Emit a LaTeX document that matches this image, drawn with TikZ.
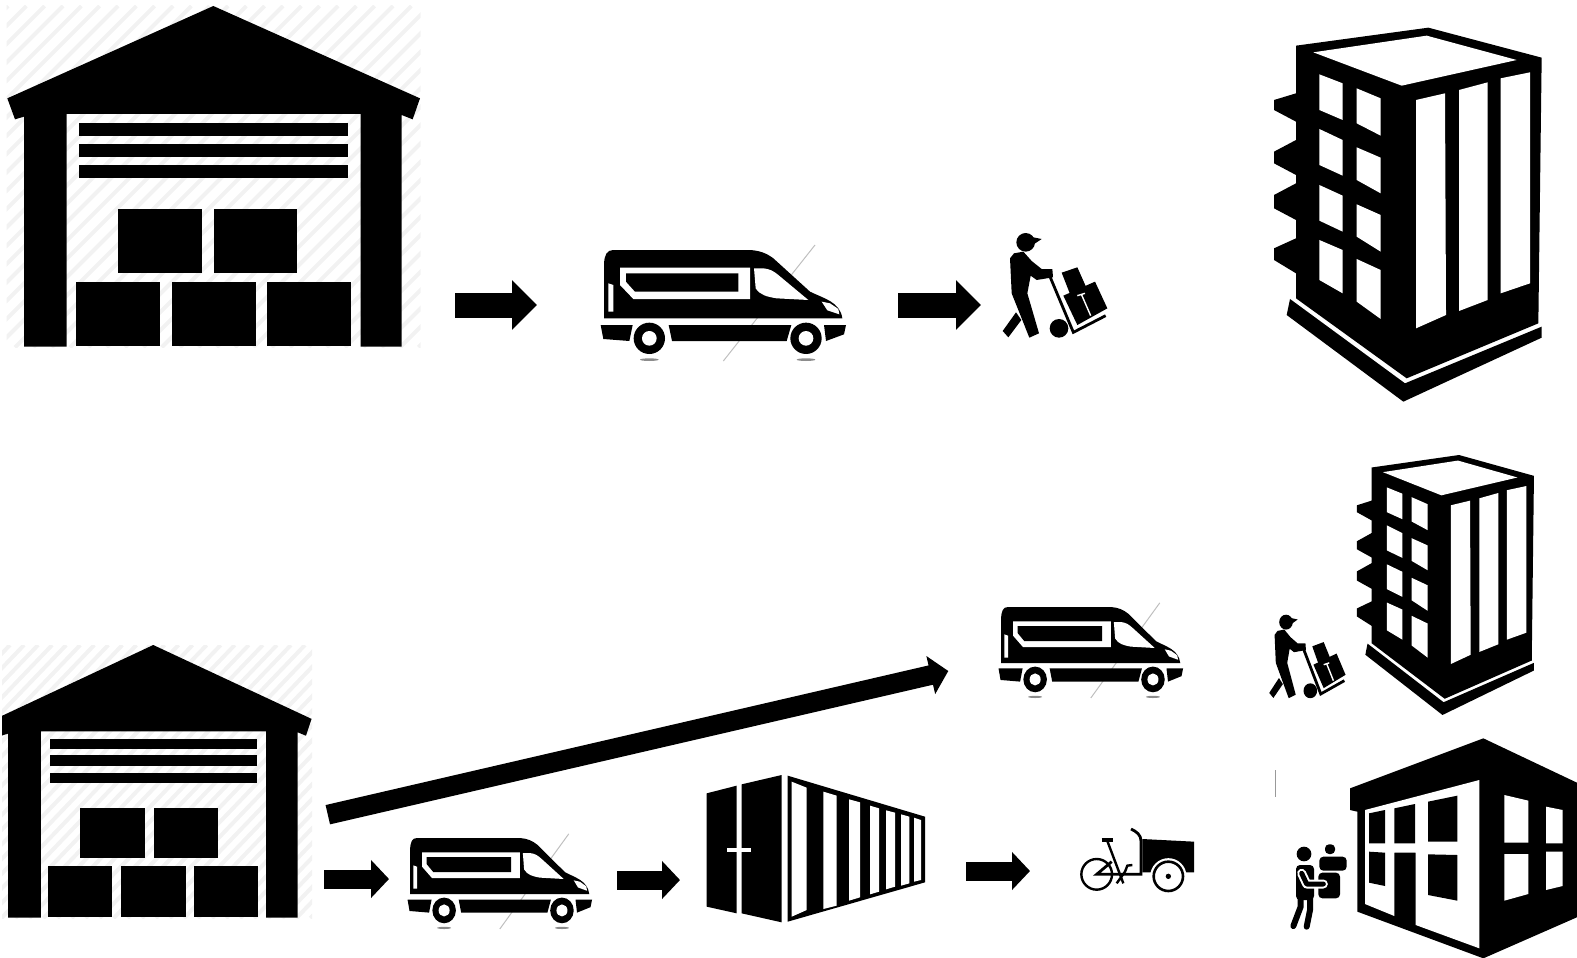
\documentclass[tikz,border=0pt]{standalone}
\usepackage{xcolor}
\usetikzlibrary{arrows.meta}
\tikzset{
    solid part/.style={fill=black, draw=none},
    cut part/.style={fill=white, draw=none},
    pics/warehouse/.style={code={
        \begin{scope}
        \clip (20,18) rectangle (1262,1042);
        \foreach \a in {-1000,-945,...,1260}
            \draw[black!5, line width=2pt] (\a,1042) -- ++(1024,-1024);
        \end{scope}
        \fill[solid part] (640,18) -- (1260,295) -- (1238,358) -- (1205,345) -- (1205,1040) -- (1082,1040) -- (1082,342) -- (200,342) -- (200,1040) -- (72,1040) -- (72,350) -- (45,358) -- (22,295) -- cycle;
        \foreach \y in {370,432,496}
            \fill[solid part] (236,\y) rectangle ++(809,38);
        \foreach \x in {355,641}
            \fill[solid part] (\x,628) rectangle ++(251,190);
        \foreach \x in {228,515,800}
            \fill[solid part] (\x,847) rectangle ++(252,191);
    }},
    pics/van/.style={code={
        \draw[black!25, line width=.5pt] (675,30) -- (400,378);
        \fill[solid part] (42,250) -- (42,85) .. controls (44,60) and (50,45) .. (70,45) -- (480,45) .. controls (510,47) and (530,55) .. (550,70) -- (660,170) .. controls (700,190) and (750,200) .. (757,250) -- cycle;
        \fill[cut part] (90,98) -- (480,98) -- (480,192) -- (130,192) -- (90,150) -- cycle;
        \fill[solid part] (108,115) -- (445,115) -- (445,170) -- (135,170) -- (108,140) -- cycle;
        \fill[cut part] (492,100) -- (520,100) .. controls (540,102) and (550,108) .. (565,120) -- (655,195) -- (560,190) .. controls (530,185) and (510,180) .. (497,160) -- cycle;
        \fill[cut part] (55,145) -- (70,150) -- (70,230) -- (55,230) -- cycle;
        \fill[cut part] (695,200) -- (720,205) -- (745,222) -- (748,238) -- (712,226) -- cycle;
        \fill[solid part] (32,270) -- (128,270) -- (118,318) -- (40,312) -- cycle;
        \fill[solid part] (236,270) -- (604,270) -- (590,318) -- (246,318) -- cycle;
        \fill[solid part] (702,270) -- (768,270) -- (762,298) -- (708,318) -- cycle;
        \foreach \x in {178,648} {
            \fill[black!45] (\x,374) ellipse [x radius=28, y radius=4];
            \fill[solid part] (\x,310) circle [radius=47];
            \fill[cut part] (\x,310) circle [radius=22];
        }
    }},
    pics/porter/.style={code={
        \fill[solid part] (107,52) circle [radius=28];
        \fill[solid part] (120,35) -- (155,42) -- (128,60) -- cycle;
        \fill[solid part] (60,100) -- (72,85) -- (100,80) -- (125,108) -- (155,132) -- (187,132) -- (189,157) -- (140,165) -- (122,152) -- (112,205) -- (147,325) -- (118,338) -- (65,205) -- cycle;
        \fill[solid part] (78,262) -- (94,285) -- (55,337) -- (38,318) -- cycle;
        \fill[solid part] (207,310) circle [radius=28];
        \draw[line width=1.4pt] (180,155) -- (250,322) -- (347,272);
        \fill[solid part] (215,143) -- (262,127) -- (290,190) -- (240,207) -- cycle;
        \fill[solid part] (220,212) -- (315,170) -- (352,250) -- (262,300) -- cycle;
        \draw[white, line width=.7pt] (262,212) -- (285,205) (275,210) -- (302,272);
    }},
    pics/tower/.style={code={
        \fill[solid part] (108,92) -- (505,38) -- (845,128) -- (835,925) -- (440,1090) -- (108,850) -- (108,775) -- (42,735) -- (42,700) -- (108,670) -- (108,615) -- (42,580) -- (42,540) -- (108,505) -- (108,480) -- (42,445) -- (42,410) -- (108,375) -- (108,320) -- (42,285) -- (42,255) -- (108,235) -- cycle;
        \fill[solid part] (90,852) -- (435,1105) -- (845,935) -- (845,968) -- (430,1160) -- (80,900) -- cycle;
        \fill[cut part] (160,112) -- (500,62) -- (770,135) -- (425,212) -- cycle;
        \foreach \a/\b/\c/\d/\e in {178/178/205/315/285, 178/342/375/482/450, 178/510/542/650/617, 178/675/705/835/795}
            \fill[cut part] (\a,\b) -- (248,\c) -- (248,\d) -- (\a,\e) -- cycle;
        \foreach \a/\b/\c/\d/\e in {290/220/250/362/325, 290/397/428/535/495, 290/568/600/710/665, 290/732/765/912/860}
            \fill[cut part] (\a,\b) -- (362,\c) -- (362,\d) -- (\a,\e) -- cycle;
        \fill[cut part] (468,255) -- (555,235) -- (558,900) -- (468,940) -- cycle;
        \fill[cut part] (597,225) -- (683,202) -- (683,855) -- (597,888) -- cycle;
        \fill[cut part] (722,190) -- (810,172) -- (810,805) -- (722,835) -- cycle;
    }}
}
\begin{document}
\begin{tikzpicture}[
    x=.5pt, y=-.5pt,
    big flow/.style={line width=12.5pt, -{Triangle[length=12.5pt, width=24pt]}},
    small flow/.style={line width=9.5pt, -{Triangle[length=9pt, width=18.5pt]}},
    long flow/.style={line width=9.9pt, -{Triangle[length=9pt, width=19pt]}}
]
\useasboundingbox (0,0) rectangle (1577,957);

\pic[scale=1/3] {warehouse};
\pic[shift={(590,235)}, scale=1/3] {van};
\pic[shift={(990,225)}, scale=1/3] {porter};
\pic[shift={(1260,15)}, scale=1/3] {tower};

\begin{scope}
\clip (2,640) rectangle (330,930);
\pic[shift={(-10.2,640.2)}, xscale=.2554, yscale=.2668] {warehouse};
\end{scope}
\pic[shift={(990.5,594.7)}, xscale=.2507, yscale=.2733] {van};
\pic[shift={(399.5,825.7)}, xscale=.2507, yscale=.2733] {van};
\pic[shift={(1260,608.3)}, xscale=.243, yscale=.266] {porter};
\pic[shift={(1347.7,446.2)}, xscale=.2204, yscale=.2317] {tower};

% container
\begin{scope}[shift={(695,765)}, scale=1/3]
\fill[solid part] (35,85) -- (125,62) -- (125,445) -- (35,425) -- cycle;
\fill[solid part] (140,58) -- (260,30) -- (260,472) -- (140,445) -- cycle;
\fill[cut part] (97,248) rectangle (168,262);
\fill[solid part] (278,32) -- (690,155) -- (690,352) -- (278,470) -- cycle;
\foreach \a/\b/\c/\d/\e/\f in {290/335/50/68/435/455, 385/425/80/92/422/432, 462/495/103/112/397/407, 525/552/122/130/380/388, 573/600/136/143/365/373, 618/643/148/155/355/362, 657/678/158/165/345/350}
    \fill[cut part] (\a,\c) -- (\b,\d) -- (\b,\e) -- (\a,\f) -- cycle;
\end{scope}

% cargo bike
\begin{scope}[shift={(1070,815)}, scale=1/3]
\fill[solid part] (217,72) -- (372,80) -- (372,172) -- (217,172) -- cycle;
\draw[line width=1.4pt] (183,42) .. controls (200,50) and (213,60) .. (213,78) -- (213,178) -- (80,178) -- (125,140);
\draw[line width=1.6pt] (95,75) -- (130,75);
\draw[line width=1.2pt] (112,78) -- (160,205) (140,205) -- (165,170) -- (172,152) -- (187,150);
\draw[line width=1.2pt] (80,178) circle [radius=46];
\draw[white, line width=1.5pt, fill=white] (295,184) circle [radius=50];
\draw[line width=1.3pt, fill=white] (295,184) circle [radius=44];
\fill[solid part] (295,184) circle [radius=8];
\end{scope}

% shop and courier
\begin{scope}[shift={(1270,730)}, scale=1/3]
\draw[black!40, line width=.5pt] (16,120) -- (16,200);
\fill[solid part] (240,175) -- (640,25) -- (925,160) -- (925,560) -- (640,685) -- (262,545) -- (262,245) -- (240,240) -- cycle;
\fill[cut part] (285,240) -- (628,150) -- (628,655) -- (437,585) -- (437,368) -- (373,368) -- (373,558) -- (285,522) -- cycle;
\fill[solid part] (297,250) -- (345,240) -- (345,340) -- (297,340) -- cycle;
\fill[solid part] (373,235) -- (435,222) -- (435,340) -- (373,340) -- cycle;
\fill[solid part] (474,215) -- (562,197) -- (562,335) -- (474,335) -- cycle;
\fill[solid part] (297,365) -- (345,368) -- (345,468) -- (297,458) -- cycle;
\fill[solid part] (474,373) -- (562,375) -- (562,512) -- (474,495) -- cycle;
\fill[cut part] (703,195) -- (775,212) -- (775,338) -- (703,338) -- cycle;
\fill[cut part] (828,230) -- (878,240) -- (878,340) -- (828,340) -- cycle;
\fill[cut part] (703,372) -- (775,372) -- (775,492) -- (703,512) -- cycle;
\fill[cut part] (828,365) -- (878,365) -- (878,468) -- (828,480) -- cycle;
\fill[solid part] (102,372) circle [radius=22];
\fill[solid part, rounded corners=2pt] (165,343) rectangle (195,372);
\fill[solid part, rounded corners=2pt] (148,380) rectangle (230,422);
\fill[solid part, rounded corners=2pt] (145,428) rectangle (210,505);
\fill[solid part, rounded corners=2pt] (78,405) rectangle (132,510);
\draw[white, line width=4.5pt, line cap=round, line join=round] (95,430) -- (110,462) -- (160,462);
\draw[line width=2.5pt, line cap=round, line join=round] (95,430) -- (110,462) -- (160,462);
\draw[line width=3pt, line cap=round] (92,500) -- (92,530) -- (70,588) (120,500) -- (120,540) -- (110,590);
\end{scope}

\coordinate (flowAfrom) at (455,305);
\coordinate (flowAto) at (537,305);
\coordinate (flowBfrom) at (898,305);
\coordinate (flowBto) at (981,305);
\coordinate (flowCfrom) at (327.8,814.7);
\coordinate (flowCto) at (948.3,671);
\coordinate (flowDfrom) at (324,879);
\coordinate (flowDto) at (389,879);
\coordinate (flowEfrom) at (617,880);
\coordinate (flowEto) at (680,880);
\coordinate (flowFfrom) at (966,871);
\coordinate (flowFto) at (1030,871);
\draw[big flow] (flowAfrom) -- (flowAto);
\draw[big flow] (flowBfrom) -- (flowBto);
\draw[long flow] (flowCfrom) -- (flowCto);
\draw[small flow] (flowDfrom) -- (flowDto);
\draw[small flow] (flowEfrom) -- (flowEto);
\draw[small flow] (flowFfrom) -- (flowFto);
\end{tikzpicture}
\end{document}
